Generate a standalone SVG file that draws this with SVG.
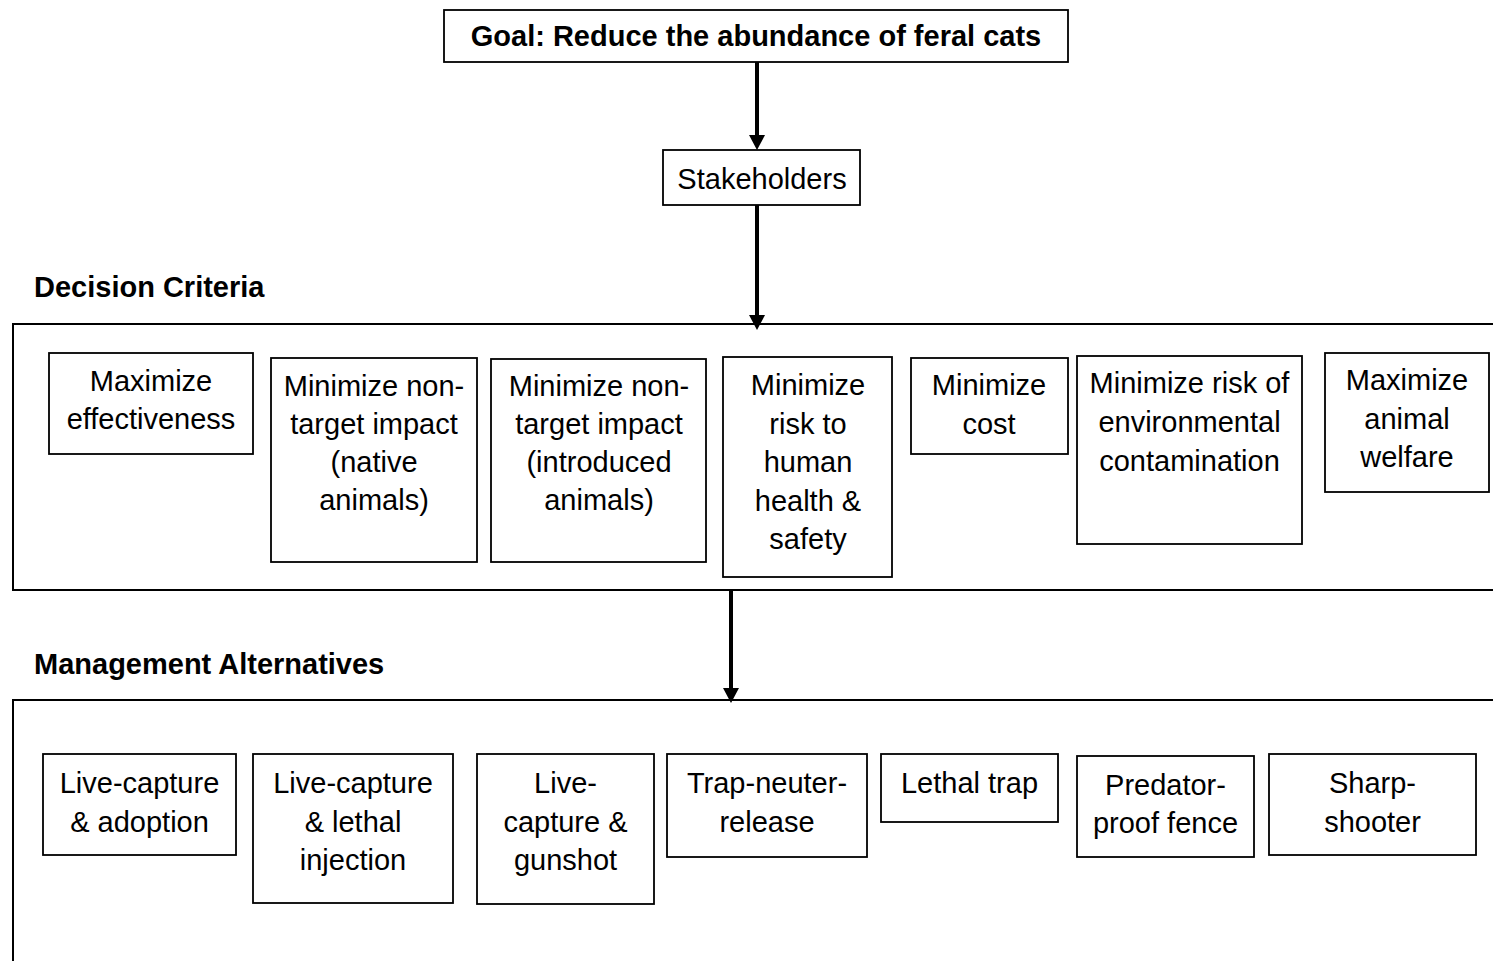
<svg xmlns="http://www.w3.org/2000/svg" width="1493" height="961" viewBox="0 0 1493 961">
<defs>
<style>
.box{fill:#fff;stroke:#000;stroke-width:1.8}
.panel{fill:none;stroke:#000;stroke-width:2}
.t{font-family:"Liberation Sans",Arial,sans-serif;font-size:29px;fill:#000;text-anchor:middle}
.b{font-weight:bold}
.h{font-family:"Liberation Sans",Arial,sans-serif;font-size:29px;font-weight:bold;fill:#000}
.conn{stroke:#000;stroke-width:4;fill:none}
</style>
<marker id="ah" markerUnits="userSpaceOnUse" markerWidth="16" markerHeight="16" viewBox="0 0 15 16" refX="0" refY="8" orient="auto">
<path d="M0,0 L15,8 L0,16 z" fill="#000"/>
</marker>
</defs>
<rect width="1493" height="961" fill="#fff"/>

<g id="panel-criteria">
<path class="panel" d="M1493,324 H13 V590 H1493"/>
<text class="h" x="34" y="297">Decision Criteria</text>
</g>
<g id="panel-alternatives">
<path class="panel" d="M1493,700 H13 V961"/>
<text class="h" x="34" y="674">Management Alternatives</text>
</g>

<g id="goal">
<rect class="box" x="444" y="10" width="624" height="52"/>
<text class="t b" x="756" y="46">Goal: Reduce the abundance of feral cats</text>
</g>
<g id="stakeholders">
<rect class="box" x="663" y="150" width="197" height="55"/>
<text class="t" x="762" y="189">Stakeholders</text>
</g>

<g id="c1">
<rect class="box" x="49" y="353" width="204" height="101"/>
<text class="t" x="151" y="391">Maximize</text>
<text class="t" x="151" y="429">effectiveness</text>
</g>
<g id="c2">
<rect class="box" x="271" y="358" width="206" height="204"/>
<text class="t" x="374" y="396">Minimize non-</text>
<text class="t" x="374" y="434">target impact</text>
<text class="t" x="374" y="472">(native</text>
<text class="t" x="374" y="510">animals)</text>
</g>
<g id="c3">
<rect class="box" x="491" y="359" width="215" height="203"/>
<text class="t" x="599" y="396">Minimize non-</text>
<text class="t" x="599" y="434">target impact</text>
<text class="t" x="599" y="472">(introduced</text>
<text class="t" x="599" y="510">animals)</text>
</g>
<g id="c4">
<rect class="box" x="723" y="357" width="169" height="220"/>
<text class="t" x="808" y="395">Minimize</text>
<text class="t" x="808" y="434">risk to</text>
<text class="t" x="808" y="472">human</text>
<text class="t" x="808" y="511">health &amp;</text>
<text class="t" x="808" y="549">safety</text>
</g>
<g id="c5">
<rect class="box" x="911" y="358" width="157" height="96"/>
<text class="t" x="989" y="395">Minimize</text>
<text class="t" x="989" y="434">cost</text>
</g>
<g id="c6">
<rect class="box" x="1077" y="356" width="225" height="188"/>
<text class="t" x="1189.5" y="393">Minimize risk of</text>
<text class="t" x="1189.5" y="432">environmental</text>
<text class="t" x="1189.5" y="471">contamination</text>
</g>
<g id="c7">
<rect class="box" x="1325" y="353" width="164" height="139"/>
<text class="t" x="1407" y="390">Maximize</text>
<text class="t" x="1407" y="429">animal</text>
<text class="t" x="1407" y="467">welfare</text>
</g>

<g id="a1">
<rect class="box" x="43" y="754" width="193" height="101"/>
<text class="t" x="139.5" y="793">Live-capture</text>
<text class="t" x="139.5" y="832">&amp; adoption</text>
</g>
<g id="a2">
<rect class="box" x="253" y="754" width="200" height="149"/>
<text class="t" x="353" y="793">Live-capture</text>
<text class="t" x="353" y="832">&amp; lethal</text>
<text class="t" x="353" y="870">injection</text>
</g>
<g id="a3">
<rect class="box" x="477" y="754" width="177" height="150"/>
<text class="t" x="565.5" y="793">Live-</text>
<text class="t" x="565.5" y="832">capture &amp;</text>
<text class="t" x="565.5" y="870">gunshot</text>
</g>
<g id="a4">
<rect class="box" x="667" y="754" width="200" height="103"/>
<text class="t" x="767" y="793">Trap-neuter-</text>
<text class="t" x="767" y="832">release</text>
</g>
<g id="a5">
<rect class="box" x="881" y="754" width="177" height="68"/>
<text class="t" x="969.5" y="793">Lethal trap</text>
</g>
<g id="a6">
<rect class="box" x="1077" y="756" width="177" height="101"/>
<text class="t" x="1165.5" y="795">Predator-</text>
<text class="t" x="1165.5" y="833">proof fence</text>
</g>
<g id="a7">
<rect class="box" x="1269" y="754" width="207" height="101"/>
<text class="t" x="1372.5" y="793">Sharp-</text>
<text class="t" x="1372.5" y="832">shooter</text>
</g>

<g id="connectors">
<line class="conn" x1="757" y1="62" x2="757" y2="135" marker-end="url(#ah)"/>
<line class="conn" x1="757" y1="205" x2="757" y2="315" marker-end="url(#ah)"/>
<line class="conn" x1="731" y1="590" x2="731" y2="688" marker-end="url(#ah)"/>
</g>
</svg>
